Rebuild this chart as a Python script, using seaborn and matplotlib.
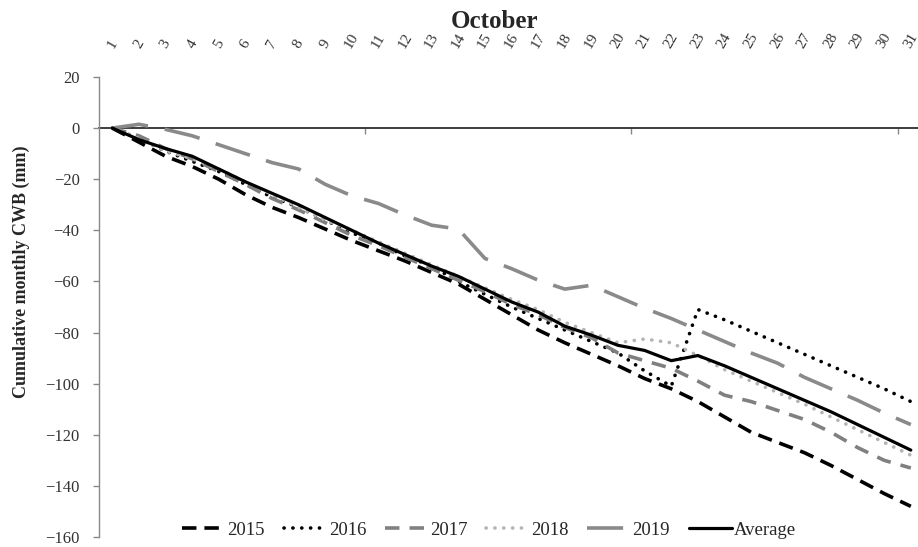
import matplotlib
matplotlib.use("Agg")
import matplotlib.pyplot as plt
import seaborn as sns
import pandas as pd

# Cumulative monthly climatic water balance (mm), October
days = list(range(1, 32))
day_labels = [str(d) for d in days]

cwb_2015 = [0, -5.5, -11, -15, -20, -26, -31, -35, -39.5, -44, -48, -52, -56.5, -61, -67,
            -73, -79, -84, -88.5, -93, -98, -102, -107, -113, -119, -123, -127, -132,
            -137.5, -143, -148]
cwb_2016 = [0, -4, -9, -13, -17, -22, -27, -31, -36, -41, -45, -50, -54, -60, -65,
            -70, -74.5, -79, -83.5, -88, -95, -101, -71, -75, -79.5, -84, -88.5, -93,
            -97.5, -102, -107]
cwb_2017 = [0, -3, -8, -12, -17, -22, -27.5, -32, -37, -42, -46, -50.5, -55, -59.5, -64,
            -69, -73, -78, -82, -88, -91, -94, -99, -104.5, -107, -110.5, -114, -119,
            -125, -130, -133]
cwb_2018 = [0, -4, -9, -12, -16, -21, -26, -31, -36, -40, -44.5, -49, -53.5, -58, -62.5,
            -67, -71, -76, -80, -84, -82.5, -84, -89, -94.5, -99, -103.5, -108, -113,
            -118, -123, -128]
cwb_2019 = [0, 1.5, -0.5, -3, -6.5, -10, -13.5, -16, -22, -26.5, -29.5, -34, -38, -39.5,
            -51, -55, -59.5, -63, -61.5, -66, -70.5, -74.5, -79, -83.5, -88, -92, -97.5,
            -102, -106.5, -111.5, -116]
cwb_avg = [0, -4.5, -8, -11, -16, -21, -25.5, -30, -35, -40, -45, -49.5, -54, -58, -63,
           -68, -72, -77.5, -81, -85, -87, -91, -89, -93, -97.5, -102, -106.5, -111, -116,
           -121, -126]

series = ["2015", "2016", "2017", "2018", "2019", "Average"]
values = [cwb_2015, cwb_2016, cwb_2017, cwb_2018, cwb_2019, cwb_avg]

sns.set_theme(style="white")
plt.rcParams["font.family"] = ["Liberation Serif", "DejaVu Serif"]

# line look per series: colour, width, dash pattern, cap style
styles = {
    "2015": dict(color="black", linewidth=2.6, linestyle=(0, (4, 2.2))),
    "2016": dict(color="black", linewidth=2.6, linestyle=(0, (0.05, 2.4)),
                 dash_capstyle="round"),
    "2017": dict(color="#808080", linewidth=2.6, linestyle=(0, (4, 2.8))),
    "2018": dict(color="#b4b4b4", linewidth=2.6, linestyle=(0, (0.05, 2.4)),
                 dash_capstyle="round"),
    "2019": dict(color="#8a8a8a", linewidth=2.6, linestyle=(0, (10, 4.7))),
    "Average": dict(color="black", linewidth=2.3, linestyle="-"),
}

fig = plt.figure(figsize=(9.18, 5.47), dpi=100)
ax = fig.add_axes([99 / 918, 10 / 547, 1 - 99 / 918, 460 / 547])

for name, vals in zip(series, values):
    df = pd.DataFrame({"day": days, "cwb": vals})
    sns.lineplot(data=df, x="day", y="cwb", ax=ax, label=name, **styles[name])

ymin, ymax = -160, 20
ax.set_ylim(ymin, ymax)
ax.set_xlim(0.5, 31.27)
ax.set_yticks(range(-160, 21, 20))
ax.tick_params(axis="y", which="major", left=True, length=4, width=1, color="#888888",
               pad=10, labelsize=12, labelcolor="#333333")

# day labels on top, no tick marks
ax.xaxis.tick_top()
ax.set_xticks(days)
ax.set_xticklabels(day_labels, rotation=60, fontsize=11, color="#333333")
ax.tick_params(axis="x", top=True, length=0, pad=19)
ax.set_xlabel("")
ax.set_ylabel("")

for side in ["top", "right", "bottom"]:
    ax.spines[side].set_visible(False)
ax.spines["left"].set_color("#888888")
ax.spines["left"].set_linewidth(1)

# horizontal axis crossing at zero
zero_axis = ax.secondary_xaxis((0 - ymin) / (ymax - ymin))
zero_axis.set_xticks([10.5, 20.5, 30.5])
zero_axis.set_xticklabels([])
zero_axis.tick_params(direction="in", length=4, width=1, color="#888888")
zero_axis.spines["bottom"].set_color("#888888")
zero_axis.spines["bottom"].set_linewidth(1)
zero_axis.set_zorder(0)

fig.text(494 / 918, 1 - 22 / 547, "October", ha="center", va="center",
         fontsize=18, fontweight="bold")
fig.text(21 / 918, 1 - 272 / 547, "Cumulative monthly CWB (mm)", ha="center",
         va="center", rotation=90, fontsize=13, fontweight="bold")

ax.legend(loc="center", bbox_to_anchor=(489 / 918, 1 - 530 / 547),
          bbox_transform=fig.transFigure, ncol=6, frameon=False, fontsize=13.5,
          handlelength=2.3, columnspacing=1.0, handletextpad=0.1)

fig.savefig("out.png", dpi=100)
